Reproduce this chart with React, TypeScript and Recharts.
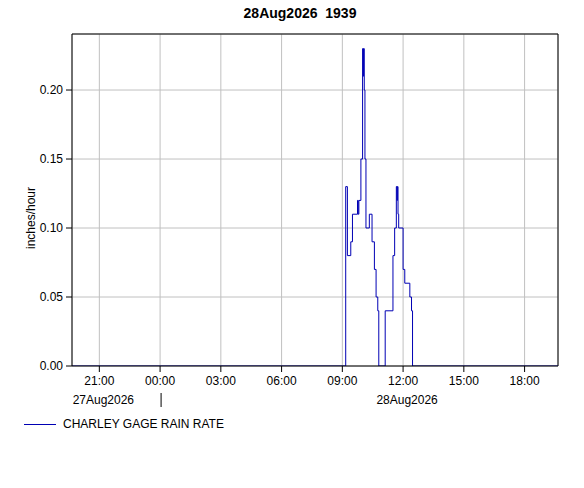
import React from 'react';
import { LineChart, Line, XAxis, YAxis, CartesianGrid, ReferenceLine } from 'recharts';

// readings: "day HH:MM" (Aug 2026) and rain rate in inches/hour, held until the next reading
const stamps = [
  '27 19:39', '28 09:10', '28 09:15', '28 09:25', '28 09:30', '28 09:45', '28 09:47', '28 09:49',
  '28 09:55', '28 10:00', '28 10:02', '28 10:03', '28 10:05', '28 10:07', '28 10:10', '28 10:20',
  '28 10:28', '28 10:35', '28 10:40', '28 10:45', '28 10:48', '28 11:07', '28 11:30', '28 11:35',
  '28 11:40', '28 11:42', '28 11:43', '28 11:45', '28 11:47', '28 12:00', '28 12:05', '28 12:20',
  '28 12:25', '28 12:28', '28 19:39',
];
const rates = [
  0, 0.13, 0.08, 0.09, 0.11, 0.12, 0.11, 0.12,
  0.15, 0.23, 0.21, 0.23, 0.2, 0.15, 0.1, 0.11,
  0.09, 0.07, 0.05, 0.04, 0, 0.04, 0.08, 0.1,
  0.13, 0.12, 0.13, 0.11, 0.1, 0.07, 0.06, 0.05,
  0.04, 0, 0,
];

const timeTicks = [-3, 0, 3, 6, 9, 12, 15, 18];
const timeLabels = ['21:00', '00:00', '03:00', '06:00', '09:00', '12:00', '15:00', '18:00'];
const dateTicks = [-3, 12];
const dateLabels = ['27Aug2026', '28Aug2026'];
const dayBreak = 0;
const rateTicks = [0, 0.05, 0.1, 0.15, 0.2];

const xMin = -4.35;
const xMax = 19.65;
const yMax = 0.2406;

const toHour = (s: string) => {
  const [day, hm] = s.split(' ');
  const [h, m] = hm.split(':').map(Number);
  return h + m / 60 + (Number(day) === 27 ? -24 : 0);
};

const data = stamps.map((s, i) => ({ t: toHour(s), rate: rates[i] }));

const FONT = '"Liberation Sans", Arial, sans-serif';
const BLUE = '#0000b4';

const TimeTick = (props: any) => {
  const { x, y, payload } = props;
  const idx = timeTicks.indexOf(payload.value);
  const d = dateTicks.indexOf(payload.value);
  return (
    <g>
      <text x={x} y={y} dy={11} textAnchor="middle" fontSize={12} fill="#000" fontFamily={FONT}>
        {timeLabels[idx]}
      </text>
      {d >= 0 && (
        <text x={x + 4} y={y} dy={30} textAnchor="middle" fontSize={12} fill="#000" fontFamily={FONT}>
          {dateLabels[d]}
        </text>
      )}
      {payload.value === dayBreak && <line x1={x + 1} x2={x + 1} y1={y + 19} y2={y + 33} stroke="#000" />}
    </g>
  );
};

export default function App() {
  return (
    <div style={{ position: 'absolute', left: 0, top: 0, width: 584, height: 488, background: '#fff' }}>
      <div
        style={{
          position: 'absolute', top: 5, left: 0, width: 600, textAlign: 'center',
          fontFamily: FONT, fontWeight: 'bold', fontSize: 14, whiteSpace: 'pre',
        }}
      >
        {'28Aug2026  1939'}
      </div>
      <LineChart width={584} height={488} data={data} margin={{ top: 34, right: 26, bottom: 92, left: 12 }}>
        <CartesianGrid stroke="#c0c0c0" />
        <XAxis
          type="number"
          dataKey="t"
          domain={[xMin, xMax]}
          ticks={timeTicks}
          allowDataOverflow
          height={30}
          tickSize={6}
          tickMargin={2}
          stroke="#000"
          tick={<TimeTick />}
        />
        <YAxis
          type="number"
          domain={[0, yMax]}
          ticks={rateTicks}
          allowDataOverflow
          width={60}
          tickSize={6}
          tickMargin={3}
          stroke="#000"
          tick={{ fontSize: 12, fill: '#000', fontFamily: FONT }}
          tickFormatter={(v: number) => v.toFixed(2)}
          label={{
            content: (p: any) => {
              const vb = p.viewBox;
              const cx = 35;
              const cy = vb.y + vb.height / 2 + 18;
              return (
                <text x={cx} y={cy} transform={`rotate(-90 ${cx} ${cy})`} textAnchor="middle"
                  fontSize={12} fontFamily={FONT} fill="#000">
                  inches/hour
                </text>
              );
            },
          }}
        />
        <ReferenceLine y={yMax} stroke="#000" ifOverflow="extendDomain" />
        <ReferenceLine x={xMax} stroke="#000" ifOverflow="extendDomain" />
        <Line
          type="stepAfter"
          dataKey="rate"
          stroke={BLUE}
          strokeWidth={1}
          dot={false}
          isAnimationActive={false}
        />
      </LineChart>
      <div
        style={{
          position: 'absolute', top: 417, left: 24, display: 'flex', alignItems: 'center',
          fontFamily: FONT, fontSize: 12,
        }}
      >
        <div style={{ width: 32, height: 1, background: BLUE, marginRight: 7 }} />
        <span>CHARLEY GAGE RAIN RATE</span>
      </div>
    </div>
  );
}
